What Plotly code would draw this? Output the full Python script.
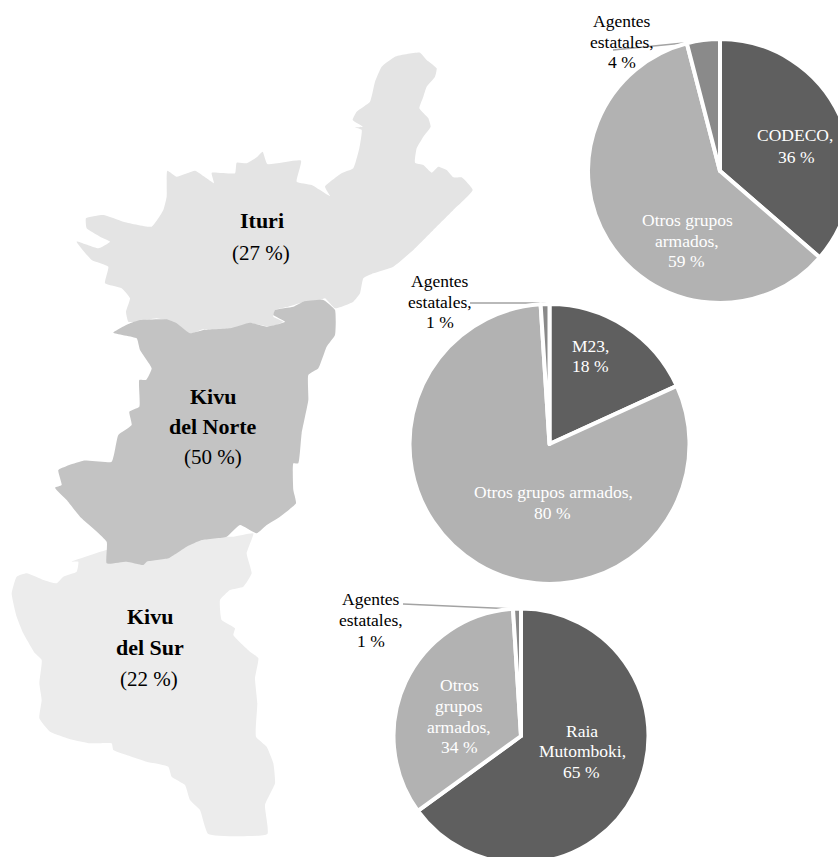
import plotly.graph_objects as go

# Canvas slightly larger than the window: two pies run past the right / bottom edge
W, H = 860, 870
FONT = "Liberation Serif"

# ---- Map outlines, traced on the reference (crop coordinates at 3x, with the crop origin) ----
ituri_outline = [(1050,38),(1070,60),(1100,85),(1095,110),(1070,140),(1060,170),(1048,205),(1075,235),(1082,260),(1060,290),(1040,325),(1035,368),(1060,375),(1085,398),(1105,380),(1130,390),(1150,412),(1175,412),(1208,450),(1150,510),(1090,570),(1030,630),(970,680),(910,700),(880,715),(870,760),(850,785),(795,805),(765,775),(740,785),(690,790),(655,800),(615,810),(610,830),(640,845),(600,860),(540,850),(480,872),(400,868),(350,885),(300,845),(260,835),(200,845),(175,845),(168,815),(180,775),(155,745),(105,730),(115,680),(65,660),(20,605),(85,625),(120,605),(90,590),(50,565),(48,535),(100,525),(160,545),(245,560),(280,510),(290,470),(292,392),(320,410),(375,392),(410,415),(432,430),(425,398),(495,400),(500,368),(530,370),(560,352),(578,335),(592,372),(693,362),(680,425),(725,435),(780,468),(765,440),(815,400),(850,385),(868,325),(875,270),(855,262),(878,260),(848,240),(860,215),(900,185),(915,125),(935,80),(975,50)]
ituri_origin = (70, 40)

norte_outline = [(220,98),(265,72),(300,60),(380,58),(410,70),(450,100),(490,90),(570,85),(630,68),(680,80),(735,65),(700,45),(705,30),(760,20),(790,5),(850,0),(885,30),(885,105),(860,140),(835,205),(805,225),(805,300),(785,400),(775,490),(760,490),(760,570),(768,610),(720,650),(680,675),(650,700),(600,675),(560,710),(485,720),(440,740),(385,775),(320,785),(310,795),(260,785),(200,790),(200,725),(120,650),(80,600),(45,563),(65,555),(55,510),(130,482),(215,485),(235,405),(275,375),(268,335),(298,320),(298,240),(318,240),(335,205),(300,150),(290,115)]
norte_origin = (40, 300)

sur_outline = [(215,95),(320,60),(600,20),(700,20),(760,10),(740,70),(755,130),(730,170),(690,180),(660,210),(665,270),(705,295),(700,315),(750,365),(775,385),(765,445),(772,520),(768,620),(800,650),(820,700),(825,760),(795,825),(802,912),(625,912),(600,840),(570,810),(555,765),(515,740),(505,710),(440,695),(395,680),(340,660),(335,640),(270,640),(220,630),(150,605),(118,565),(125,510),(118,460),(125,390),(105,370),(70,310),(50,260),(35,190),(50,140),(80,130),(130,150),(170,160),(190,140),(230,125),(235,95)]
sur_origin = (0, 530)

# ---- Pie data ----
pie_categories = ["Grupo principal", "Otros grupos armados", "Agentes estatales"]
ituri_shares = [36, 59, 4]
norte_shares = [18, 80, 1]
sur_shares = [65, 34, 1]
slice_colors = ["#5f5f5f", "#b2b2b2", "#8a8a8a"]

map_colors = {"ituri": "#e4e4e4", "norte": "#c3c3c3", "sur": "#ececec"}
leader_color = "#a3a3a3"


def outline_trace(points, origin, color):
    xs = [origin[0] + p[0] / 3 for p in points] + [origin[0] + points[0][0] / 3]
    ys = [origin[1] + p[1] / 3 for p in points] + [origin[1] + points[0][1] / 3]
    return go.Scatter(x=xs, y=ys, mode="lines", fill="toself", fillcolor=color,
                      line=dict(width=0, color=color, shape="spline", smoothing=0.4),
                      hoverinfo="skip", showlegend=False)


def pie_trace(shares, cx, cy, r):
    return go.Pie(labels=pie_categories, values=shares, sort=False, direction="clockwise",
                  rotation=0, textinfo="none", showlegend=False, hoverinfo="skip",
                  marker=dict(colors=slice_colors, line=dict(color="white", width=4)),
                  domain=dict(x=[(cx - r) / W, (cx + r) / W],
                              y=[1 - (cy + r) / H, 1 - (cy - r) / H]))


def leader_trace(xs, ys):
    return go.Scatter(x=xs, y=ys, mode="lines", line=dict(color=leader_color, width=1.5),
                      hoverinfo="skip", showlegend=False)


fig = go.Figure()
fig.add_trace(outline_trace(ituri_outline, ituri_origin, map_colors["ituri"]))
fig.add_trace(outline_trace(sur_outline, sur_origin, map_colors["sur"]))
fig.add_trace(outline_trace(norte_outline, norte_origin, map_colors["norte"]))
fig.add_trace(pie_trace(ituri_shares, 720, 171, 132))
fig.add_trace(pie_trace(norte_shares, 549.5, 444, 140))
fig.add_trace(pie_trace(sur_shares, 521, 736, 127.5))
fig.add_trace(leader_trace([613, 704], [50, 41]))
fig.add_trace(leader_trace([470, 545, 545], [303, 303, 305]))
fig.add_trace(leader_trace([403, 517], [604, 609]))


def label(text, x, y, color="black", size=17.5, bold=False):
    fig.add_annotation(x=x, y=y, xref="x", yref="y", showarrow=False,
                       text=f"<b>{text}</b>" if bold else text,
                       xanchor="center", yanchor="middle",
                       font=dict(family=FONT, size=size, color=color))


# Map labels
label("Ituri", 262, 220, size=22, bold=True)
label("(27 %)", 261, 253, size=21)
label("Kivu", 213, 396, size=22, bold=True)
label("del Norte", 213, 426, size=22, bold=True)
label("(50 %)", 213, 457, size=21)
label("Kivu", 150, 616, size=22, bold=True)
label("del Sur", 150, 647, size=22, bold=True)
label("(22 %)", 149, 679, size=21)

# Ituri pie labels
label("Agentes", 622, 21)
label("estatales,", 622, 42)
label("4 %", 622, 62)
label("CODECO,", 795, 135, "white")
label("36 %", 796, 157, "white")
label("Otros grupos", 687, 220, "white")
label("armados,", 687, 241, "white")
label("59 %", 686, 261, "white")

# Kivu del Norte pie labels
label("Agentes", 440, 281)
label("estatales,", 440, 302)
label("1 %", 440, 322)
label("M23,", 590, 346, "white")
label("18 %", 590, 366, "white")
label("Otros grupos armados,", 553, 492, "white")
label("80 %", 552, 513, "white")

# Kivu del Sur pie labels
label("Agentes", 371, 599)
label("estatales,", 371, 620)
label("1 %", 371, 641)
label("Otros", 459, 685, "white")
label("grupos", 459, 706, "white")
label("armados,", 459, 727, "white")
label("34 %", 459, 747, "white")
label("Raia", 582, 731, "white")
label("Mutomboki,", 582, 751, "white")
label("65 %", 581, 772, "white")

fig.update_layout(
    width=W, height=H, autosize=False,
    margin=dict(l=0, r=0, t=0, b=0),
    paper_bgcolor="white", plot_bgcolor="white",
    xaxis=dict(range=[0, W], visible=False, fixedrange=True),
    yaxis=dict(range=[H, 0], visible=False, fixedrange=True),
)

fig.write_html("out.html", config={"displayModeBar": False}, post_script=(
    "document.documentElement.style.overflow='hidden';"
    "document.body.style.overflow='hidden';"
    "document.body.style.margin='0';"
))
